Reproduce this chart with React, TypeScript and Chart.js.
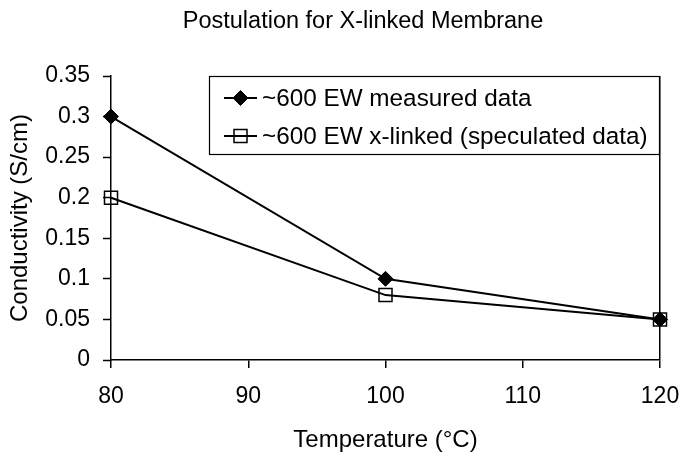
import React, { useEffect, useRef } from "react";
import { Chart, registerables } from "chart.js";

Chart.register(...registerables);

const temperatures = [80, 100, 120];
const measuredData = [0.3, 0.1, 0.05];
const xlinkedData = [0.2, 0.08, 0.05];
const seriesNames = ["~600 EW measured data", "~600 EW x-linked (speculated data)"];
const chartTitle = "Postulation for X-linked Membrane";
const xAxisTitle = "Temperature (°C)";
const yAxisTitle = "Conductivity (S/cm)";
const xTickValues = [80, 90, 100, 110, 120];
const yTickLabels = ["0", "0.05", "0.1", "0.15", "0.2", "0.25", "0.3", "0.35"];

const FONT = "'Liberation Sans', Arial, Helvetica, sans-serif";

const overlayPlugin = {
  id: "overlay",
  afterDraw(chart: any) {
    const ctx = chart.ctx;
    ctx.save();
    // title
    ctx.fillStyle = "#000";
    ctx.font = `23.5px ${FONT}`;
    ctx.textAlign = "center";
    ctx.textBaseline = "alphabetic";
    ctx.fillText(chartTitle, 363, 28);

    // legend box
    const bx = 209.5, by = 76.5, bw = 450, bh = 78;
    ctx.fillStyle = "#fff";
    ctx.fillRect(bx, by, bw, bh);
    ctx.strokeStyle = "#000";
    ctx.lineWidth = 1.2;
    ctx.strokeRect(bx, by, bw, bh);

    const rows = [98, 136];
    chart.data.datasets.forEach((ds: any, i: number) => {
      const y = rows[i];
      ctx.strokeStyle = ds.borderColor;
      ctx.lineWidth = ds.borderWidth;
      ctx.beginPath();
      ctx.moveTo(224, y);
      ctx.lineTo(257, y);
      ctx.stroke();
      const cx = 240.5;
      ctx.beginPath();
      if (ds.pointStyle === "rectRot") {
        const r = ds.pointRadius;
        ctx.moveTo(cx - r, y);
        ctx.lineTo(cx, y - r);
        ctx.lineTo(cx + r, y);
        ctx.lineTo(cx, y + r);
        ctx.closePath();
        ctx.fillStyle = ds.pointBackgroundColor;
        ctx.fill();
        ctx.lineWidth = ds.pointBorderWidth;
        ctx.strokeStyle = ds.pointBorderColor;
        ctx.stroke();
      } else {
        const s = ds.pointRadius * Math.SQRT1_2;
        ctx.rect(cx - s, y - s, 2 * s, 2 * s);
        ctx.lineWidth = ds.pointBorderWidth;
        ctx.strokeStyle = ds.pointBorderColor;
        ctx.stroke();
      }
      ctx.fillStyle = "#000";
      ctx.font = `24.3px ${FONT}`;
      ctx.textAlign = "left";
      ctx.textBaseline = "middle";
      ctx.fillText(ds.label, 262, y + 1);
    });
    ctx.restore();
  },
};

export default function App() {
  const canvasRef = useRef<HTMLCanvasElement | null>(null);

  useEffect(() => {
    if (!canvasRef.current) return;
    const chart = new Chart(canvasRef.current, {
      type: "line",
      data: {
        datasets: [
          {
            label: seriesNames[0],
            data: temperatures.map((t, i) => ({ x: t, y: measuredData[i] })),
            borderColor: "#000",
            borderWidth: 2,
            pointStyle: "rectRot",
            pointRadius: 7.5,
            pointBackgroundColor: "#000",
            pointBorderColor: "#000",
            pointBorderWidth: 1,
            fill: false,
            tension: 0,
            clip: false,
          } as any,
          {
            label: seriesNames[1],
            data: temperatures.map((t, i) => ({ x: t, y: xlinkedData[i] })),
            borderColor: "#000",
            borderWidth: 2,
            pointStyle: "rect",
            pointRadius: 9.2,
            pointBackgroundColor: "rgba(0,0,0,0)",
            pointBorderColor: "#000",
            pointBorderWidth: 1.5,
            fill: false,
            tension: 0,
            clip: false,
          } as any,
        ],
      },
      options: {
        animation: false,
        responsive: false,
        devicePixelRatio: 1,
        layout: { padding: { top: 76, right: 20, left: 0, bottom: 0 } },
        plugins: {
          legend: { display: false },
          title: { display: false },
          tooltip: { enabled: false },
        },
        scales: {
          x: {
            type: "linear",
            min: xTickValues[0],
            max: xTickValues[xTickValues.length - 1],
            afterFit: (s: any) => {
              s.height = 95;
              s.paddingLeft = 0;
              s.paddingRight = 0;
            },
            afterBuildTicks: (s: any) => {
              s.ticks = xTickValues.map((v) => ({ value: v }));
            },
            ticks: {
              color: "#000",
              font: { family: FONT, size: 23 },
              padding: 15,
              maxRotation: 0,
              callback: (v: any) => String(v),
            },
            grid: {
              drawOnChartArea: true,
              color: (c: any) =>
                c.tick && c.tick.value === xTickValues[xTickValues.length - 1] ? "#000" : "rgba(0,0,0,0)",
              lineWidth: 1.5,
              tickColor: "#000",
              tickLength: 8,
              tickWidth: 1.5,
            },
            border: { display: true, color: "#000", width: 1.5 },
            title: {
              display: true,
              text: xAxisTitle,
              color: "#000",
              font: { family: FONT, size: 24 },
              padding: { top: 3, bottom: 0 },
            },
          },
          y: {
            type: "linear",
            min: 0,
            max: 0.35,
            afterFit: (s: any) => {
              s.width = 111;
              s.paddingTop = 0;
              s.paddingBottom = 0;
            },
            afterBuildTicks: (s: any) => {
              s.ticks = yTickLabels.map((l) => ({ value: parseFloat(l) }));
            },
            ticks: {
              color: "#000",
              font: { family: FONT, size: 23 },
              padding: 13,
              callback: (v: any) => {
                const idx = yTickLabels.findIndex((l) => Math.abs(parseFloat(l) - v) < 1e-9);
                return idx >= 0 ? yTickLabels[idx] : "";
              },
            },
            grid: {
              drawOnChartArea: false,
              tickColor: "#000",
              tickLength: 8,
              tickWidth: 1.5,
            },
            border: { display: true, color: "#000", width: 1.5 },
            title: {
              display: true,
              text: yAxisTitle,
              color: "#000",
              font: { family: FONT, size: 24 },
              padding: { top: 6, bottom: 0 },
            },
          },
        },
      },
      plugins: [overlayPlugin],
    });
    return () => chart.destroy();
  }, []);

  return (
    <div style={{ position: "absolute", left: 0, top: 0, width: 680, height: 455, background: "#fff" }}>
      <canvas ref={canvasRef} width={680} height={455} />
    </div>
  );
}
